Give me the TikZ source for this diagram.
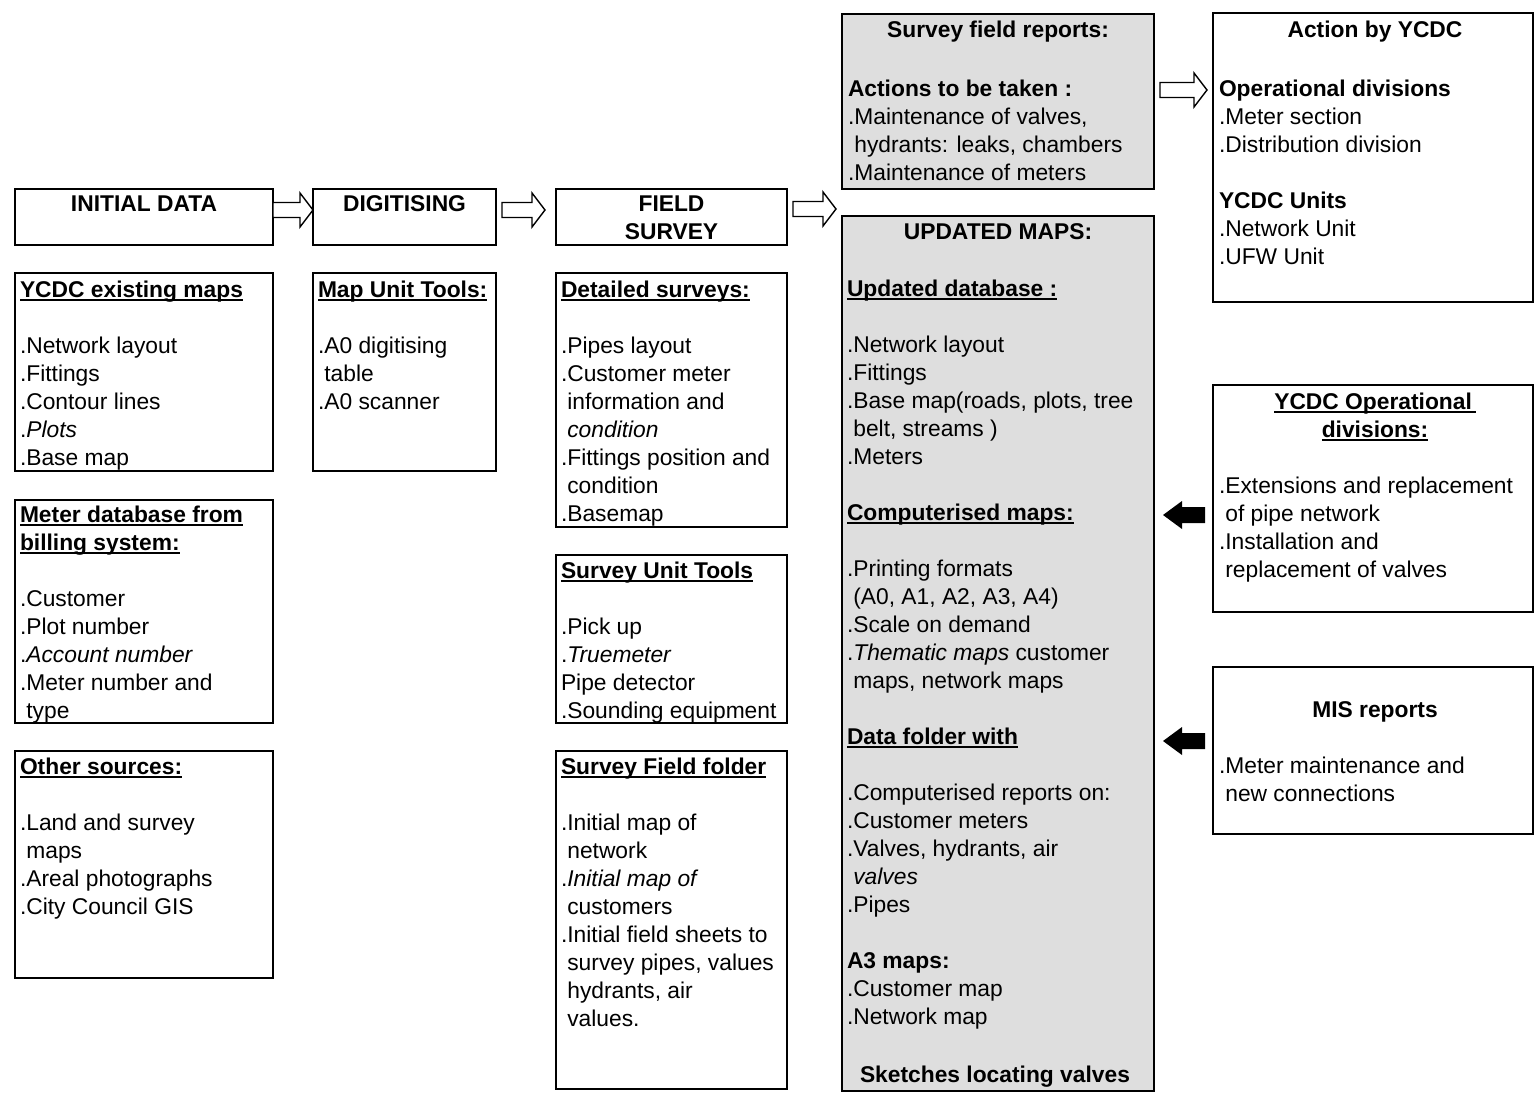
\documentclass[tikz,border=0pt]{standalone}
\usepackage{fontspec}
\setmainfont{Liberation Sans}
\usetikzlibrary{calc}
\newcommand\bodyfont{\fontsize{22.8}{28}\selectfont}
\newsavebox\hulbox
\newcommand\hul[1]{\sbox\hulbox{#1}\rlap{\rule[-4pt]{\wd\hulbox}{1.8pt}}\usebox\hulbox}
% hollow block arrow: #1 start point (centre height), #2 end anchor, #3 gap at start, #4 gap at end
\newcommand\hollowarrow[4]{%
  \draw[hollow] let \p1=#1, \p2=#2 in
    ({\x1+#3pt},{\y1+7.5pt}) -- ({\x2-#4pt-13pt},{\y1+7.5pt}) -- ({\x2-#4pt-13pt},{\y1+17pt})
    -- ({\x2-#4pt},\y1) -- ({\x2-#4pt-13pt},{\y1-17pt}) -- ({\x2-#4pt-13pt},{\y1-7.5pt})
    -- ({\x1+#3pt},{\y1-7.5pt}) -- cycle;}
% solid block arrow pointing left: #1 start (right side), #2 end anchor (left side)
\newcommand\solidarrow[2]{%
  \fill let \p1=#1, \p2=#2 in
    ({\x1-8pt},{\y1+8pt}) -- ({\x2+28pt},{\y1+8pt}) -- ({\x2+28pt},{\y1+14pt})
    -- ({\x2+9pt},\y1) -- ({\x2+28pt},{\y1-14pt}) -- ({\x2+28pt},{\y1-8pt})
    -- ({\x1-8pt},{\y1-8pt}) -- cycle;}
\begin{document}
\begin{tikzpicture}[x=1pt,y=-1pt,
  box/.style={draw=black, line width=1.4pt, anchor=north west, inner sep=0pt, outer sep=0pt},
  shadedbox/.style={box, fill=black!13},
  txt/.style={anchor=north west, inner sep=0pt, outer sep=0pt, align=left, font=\bodyfont},
  ctxt/.style={anchor=north, inner sep=0pt, outer sep=0pt, align=center, font=\bodyfont\bfseries},
  hollow/.style={draw=black, line width=1.4pt, fill=white, line join=miter}]
\useasboundingbox (0,0) rectangle (1535,1093);

% ---------- boxes ----------
\node[box, minimum width=258pt, minimum height=56pt]  (init)     at (15,189) {};
\node[box, minimum width=183pt, minimum height=56pt]  (digit)    at (313,189) {};
\node[box, minimum width=231pt, minimum height=56pt]  (field)    at (556,189) {};
\node[box, minimum width=258pt, minimum height=198pt] (ycdc)     at (15,273) {};
\node[box, minimum width=183pt, minimum height=198pt] (mapunit)  at (313,273) {};
\node[box, minimum width=231pt, minimum height=254pt] (detailed) at (556,273) {};
\node[box, minimum width=258pt, minimum height=223pt] (meterdb)  at (15,500) {};
\node[box, minimum width=231pt, minimum height=168pt] (survtools) at (556,555) {};
\node[box, minimum width=258pt, minimum height=227pt] (other)    at (15,751) {};
\node[box, minimum width=231pt, minimum height=338pt] (folder)   at (556,751) {};
\node[shadedbox, minimum width=312pt, minimum height=175pt] (reports) at (842,14) {};
\node[shadedbox, minimum width=312pt, minimum height=875pt] (updated) at (842,216) {};
\node[box, minimum width=320pt, minimum height=289pt] (action)   at (1213,13) {};
\node[box, minimum width=320pt, minimum height=227pt] (opdiv)    at (1213,385) {};
\node[box, minimum width=320pt, minimum height=167pt] (mis)      at (1213,667) {};

% ---------- texts ----------
\node[ctxt] (initT)  at ($(init.north)+(0,2.4)$)  {\strut INITIAL DATA};
\node[ctxt] (digitT) at ($(digit.north)+(0,2.4)$) {\strut DIGITISING};
\node[ctxt] (fieldT) at ($(field.north)+(0,2.4)$) {\strut FIELD\\\strut SURVEY};

\node[txt] (ycdcT) at ($(ycdc.north west)+(5,4.4)$) {\strut\hul{\textbf{YCDC existing maps}}\\\strut\\
 .Network layout\\ .Fittings\\ .Contour lines\\ .\textit{Plots}\\ .Base map};

\node[txt] (mapunitT) at ($(mapunit.north west)+(5,4.4)$) {\strut\hul{\textbf{Map Unit Tools:}}\\\strut\\
 .A0 digitising\\ \ table\\ .A0 scanner};

\node[txt] (detailedT) at ($(detailed.north west)+(5,4.4)$) {\strut\hul{\textbf{Detailed surveys:}}\\\strut\\
 .Pipes layout\\ .Customer meter\\ \ information and\\ \ \textit{condition}\\ .Fittings position and\\ \ condition\\ .Basemap};

\node[txt] (meterdbT) at ($(meterdb.north west)+(5,2.4)$) {\strut\hul{\textbf{Meter database from}}\\\strut\hul{\textbf{billing system:}}\\\strut\\
 .Customer\\ .Plot number\\ .\textit{Account number}\\ .Meter number and\\ \ type};

\node[txt] (survtoolsT) at ($(survtools.north west)+(5,3.4)$) {\strut\hul{\textbf{Survey Unit Tools}}\\\strut\\
 .Pick up\\ .\textit{Truemeter}\\ Pipe detector\\ .Sounding equipment};

\node[txt] (otherT) at ($(other.north west)+(5,3.4)$) {\strut\hul{\textbf{Other sources:}}\\\strut\\
 .Land and survey\\ \ maps\\ .Areal photographs\\ .City Council GIS};

\node[txt] (folderT) at ($(folder.north west)+(5,3.4)$) {\strut\hul{\textbf{Survey Field folder}}\\\strut\\
 .Initial map of\\ \ network\\ .\textit{Initial map of}\\ \ customers\\ .Initial field sheets to\\ \ survey pipes, values\\ \ hydrants, air\\ \ values.};

\node[ctxt] (reportsH) at ($(reports.north)+(0,3.4)$) {\strut Survey field reports:};
\node[txt] (reportsT) at ($(reports.north west)+(6,62.4)$) {\strut\textbf{Actions to be taken :}\\
 .Maintenance of valves,\\ \ hydrants: leaks, chambers\\ .Maintenance of meters};

\node[ctxt] (updatedH) at ($(updated.north)+(0,3.4)$) {\strut UPDATED MAPS:};
\node[txt] (updatedT) at ($(updated.north west)+(5,60.4)$) {\strut\hul{\textbf{Updated database :}}\\\strut\\
 .Network layout\\ .Fittings\\ .Base map(roads, plots, tree\\ \ belt, streams )\\ .Meters\\\strut\\
 \hul{\textbf{Computerised maps:}}\\\strut\\
 .Printing formats\\ \ (A0, A1, A2, A3, A4)\\ .Scale on demand\\ .\textit{Thematic maps} customer\\ \ maps, network maps\\\strut\\
 \hul{\textbf{Data folder with}}\\\strut\\
 .Computerised reports on:\\ .Customer meters\\ .Valves, hydrants, air\\ \ \textit{valves}\\ .Pipes\\\strut\\
 \textbf{A3 maps:}\\ .Customer map\\ .Network map};
\node[ctxt] (updatedS) at ($(updated.north)+(-3,846.4)$) {\strut Sketches locating valves};

\node[ctxt] (actionH) at ($(action.north)+(2,4.4)$) {\strut Action by YCDC};
\node[txt] (actionT) at ($(action.north west)+(6,63.4)$) {\strut\textbf{Operational divisions}\\
 .Meter section\\ .Distribution division\\\strut\\ \textbf{YCDC Units}\\ .Network Unit\\ .UFW Unit};

\node[ctxt] (opdivH) at ($(opdiv.north)+(2,4.4)$) {\strut\hul{YCDC Operational\,}\\\strut\hul{divisions:}};
\node[txt] (opdivT) at ($(opdiv.north west)+(6,88.4)$) {\strut.Extensions and replacement\\
 \ of pipe network\\ .Installation and\\ \ replacement of valves};

\node[ctxt] (misH) at ($(mis.north)+(2,30.4)$) {\strut MIS reports};
\node[txt] (misT) at ($(mis.north west)+(6,86.4)$) {\strut.Meter maintenance and\\ \ new connections};

% ---------- connectors ----------
\hollowarrow{($(init.north east)+(0,21)$)}{(digit.west)}{0}{0}
\hollowarrow{($(digit.north east)+(0,21)$)}{(field.west)}{6}{11}
\hollowarrow{($(field.north east)+(0,20)$)}{(updated.west)}{6}{6}
\hollowarrow{($(reports.north east)+(0,76)$)}{(action.west)}{6}{6}
\solidarrow{($(opdiv.north west)+(0,130)$)}{(updated.east)}
\solidarrow{($(mis.north west)+(0,74)$)}{(updated.east)}
\end{tikzpicture}
\end{document}
